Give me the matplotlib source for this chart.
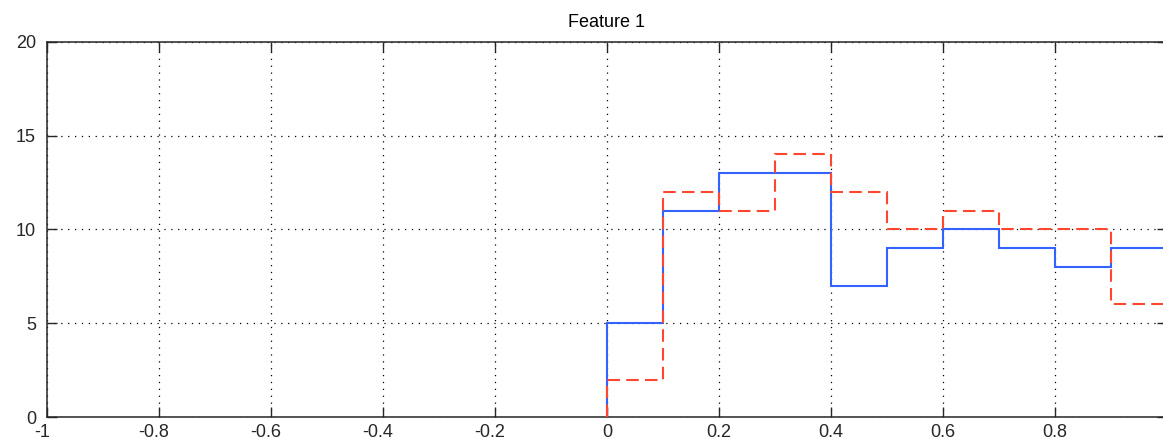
import matplotlib
matplotlib.use("Agg")
import matplotlib.pyplot as plt
import matplotlib.transforms as mtransforms

# histogram bin edges and counts for the two groups
bin_edges = [0.0, 0.1, 0.2, 0.3, 0.4, 0.5, 0.6, 0.7, 0.8, 0.9, 1.0]
counts_a = [5, 11, 13, 13, 7, 9, 10, 9, 8, 9]
counts_b = [2, 12, 11, 14, 12, 10, 11, 10, 10, 6]
x_ticks = [-1, -0.8, -0.6, -0.4, -0.2, 0, 0.2, 0.4, 0.6, 0.8]
x_labels = ["-1", "-0.8", "-0.6", "-0.4", "-0.2", "0", "0.2", "0.4", "0.6", "0.8"]
y_ticks = [0, 5, 10, 15, 20]

plt.rcParams["font.family"] = ["Liberation Sans", "DejaVu Sans"]

fig = plt.figure(figsize=(11.63, 4.44), dpi=100)
ax = fig.add_axes([47 / 1163, 27 / 444, 1120 / 1163, 375 / 444])

ax.stairs(counts_a, bin_edges, baseline=0, color="#3462ff", linewidth=1.5, zorder=3)
ax.stairs(counts_b, bin_edges, baseline=0, color="#ff4630", linewidth=1.5,
          linestyle=(0, (6, 3)), zorder=4)

ax.set_xlim(-1, 1)
ax.set_ylim(0, 20)
ax.set_xticks(x_ticks)
ax.set_xticklabels(x_labels)
ax.set_yticks(y_ticks)
ax.grid(True, color="black", linestyle=(0, (1, 4.5)), linewidth=0.9)
ax.tick_params(direction="in", length=7, width=1, colors="#262626", labelsize=13,
               top=True, right=True)
ax.tick_params(axis="x", pad=5)
ax.tick_params(axis="y", pad=8)
for spine in ax.spines.values():
    spine.set_color("#262626")
    spine.set_linewidth(1.1)

# negative labels sit a little left of their ticks
shift = mtransforms.ScaledTranslation(-5 / 100, 0, fig.dpi_scale_trans)
for lab in ax.get_xticklabels():
    if lab.get_text().startswith("-"):
        lab.set_transform(lab.get_transform() + shift)

ax.set_title("Feature 1", fontsize=13, pad=11)

fig.savefig("out.png", dpi=100)
